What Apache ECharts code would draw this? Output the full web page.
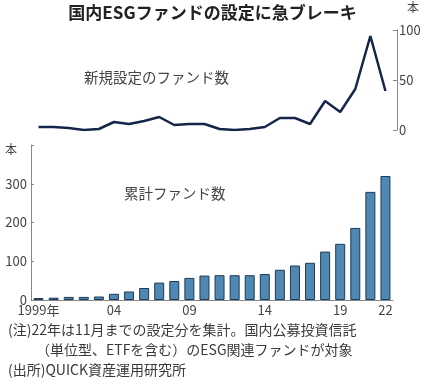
<!DOCTYPE html>
<html><head><meta charset="utf-8">
<script src="https://cdn.jsdelivr.net/npm/echarts@6/dist/echarts.min.js"></script>
<style>html,body{margin:0;padding:0;background:#fff}#c{width:425px;height:384px}</style>
</head><body><div id="c"></div>
<script>
const years = ['1999','2000','2001','2002','2003','2004','2005','2006','2007','2008','2009','2010','2011','2012','2013','2014','2015','2016','2017','2018','2019','2020','2021','2022'];
const tickLabels = {'1999':'1999年','2004':'04','2009':'09','2014':'14','2019':'19','2022':'22'};
const newFunds = [3,3,2,0,1,8,6,9,13,5,6,6,1,0,1,3,12,12,6,29,18,41,94,39];
const cumFunds = [5,6,8,8,9,16,22,31,45,49,57,63,64,64,64,67,78,89,96,125,145,186,279,320];
const topTicks = [0,50,100];
const bottomTicks = [0,100,200,300];

const F = '"Noto Sans CJK JP", "Noto Sans", sans-serif';
const chart = echarts.init(document.getElementById('c'), null, {renderer:'canvas'});
chart.setOption({
  animation:false,
  backgroundColor:'#fff',
  textStyle:{fontFamily:F},
  grid:[
    {left:31, top:30, width:362, height:100},
    {left:31, top:145, width:362, height:155}
  ],
  xAxis:[
    {type:'category', gridIndex:0, data:years, boundaryGap:true, show:false},
    {type:'category', gridIndex:1, data:years, boundaryGap:true,
     axisLine:{show:true, lineStyle:{color:'#888', width:1}},
     axisTick:{show:false},
     axisLabel:{interval:0, margin:4, fontSize:13, color:'#444', fontFamily:F,
       formatter:v => tickLabels[v] || ''}}
  ],
  yAxis:[
    {type:'value', gridIndex:0, position:'right', offset:4, min:0, max:100, interval:50,
     splitLine:{show:false},
     axisLine:{show:true, lineStyle:{color:'#888'}},
     axisTick:{show:true, inside:true, length:4, lineStyle:{color:'#888'}},
     axisLabel:{margin:2, fontSize:13, color:'#444', fontFamily:F,
       formatter:v => topTicks.includes(v) ? String(v) : ''}},
    {type:'value', gridIndex:1, min:0, max:400, interval:100,
     splitLine:{show:false},
     axisLine:{show:true, lineStyle:{color:'#888'}},
     axisTick:{show:true, inside:true, length:3, lineStyle:{color:'#888'}},
     axisLabel:{margin:4, fontSize:13, color:'#444', fontFamily:F,
       formatter:v => bottomTicks.includes(v) ? String(v) : ''}}
  ],
  series:[
    {type:'line', xAxisIndex:0, yAxisIndex:0, data:newFunds, symbol:'none',
     lineStyle:{color:'#16254a', width:2.5}},
    {type:'bar', xAxisIndex:1, yAxisIndex:1, data:cumFunds, barWidth:10,
     itemStyle:{color:'#4f88b3', borderColor:'#1e3a55', borderWidth:1}}
  ],
  graphic:[
    {type:'text', left:'center', top:4, style:{text:'国内ESGファンドの設定に急ブレーキ', fill:'#222', font:'bold 17px '+F}},
    {type:'text', left:407, top:1, style:{text:'本', font:'12px '+F, fill:'#444'}},
    {type:'text', left:84, top:70, style:{text:'新規設定のファンド数', font:'14.5px '+F, fill:'#444'}},
    {type:'text', left:5, top:143, style:{text:'本', font:'12px '+F, fill:'#444'}},
    {type:'text', left:124, top:186, style:{text:'累計ファンド数', font:'14.5px '+F, fill:'#444'}},
    {type:'text', left:8, top:323, style:{text:'(注)22年は11月までの設定分を集計。国内公募投資信託', font:'14px '+F, fill:'#3a3a3a'}},
    {type:'text', left:36, top:343, style:{text:'（単位型、ETFを含む）のESG関連ファンドが対象', font:'14px '+F, fill:'#3a3a3a'}},
    {type:'text', left:8, top:363, style:{text:'(出所)QUICK資産運用研究所', font:'14px '+F, fill:'#3a3a3a'}}
  ]
});
</script></body></html>
